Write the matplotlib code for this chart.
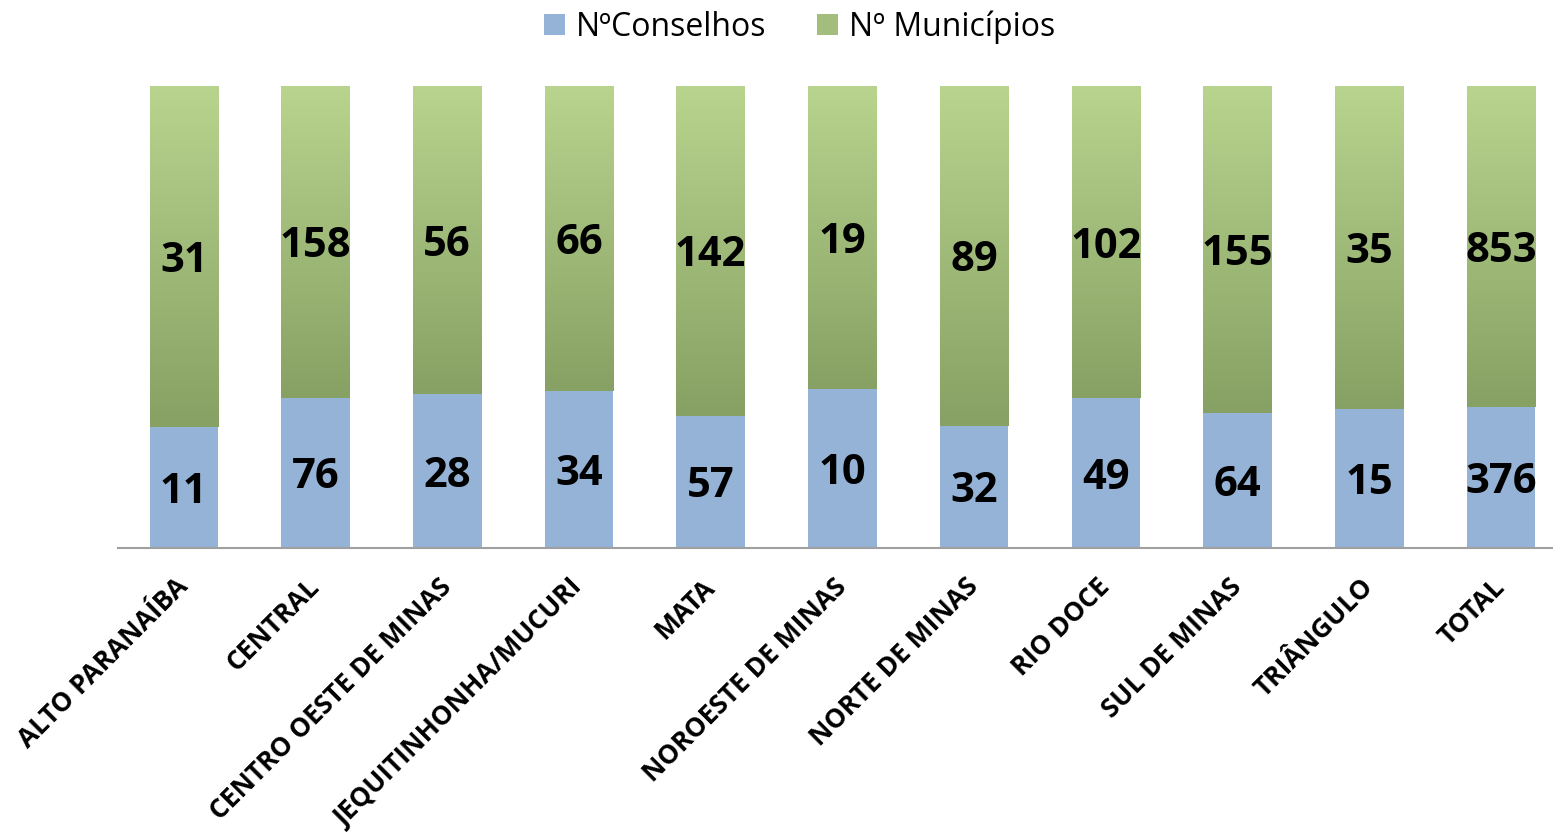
import numpy as np
import matplotlib
matplotlib.use("Agg")
import matplotlib.pyplot as plt
from matplotlib.patches import Patch
from matplotlib.colors import LinearSegmentedColormap

regioes = ["ALTO PARANAÍBA", "CENTRAL", "CENTRO OESTE DE MINAS", "JEQUITINHONHA/MUCURI",
           "MATA", "NOROESTE DE MINAS", "NORTE DE MINAS", "RIO DOCE", "SUL DE MINAS",
           "TRIÂNGULO", "TOTAL"]
conselhos = [11, 76, 28, 34, 57, 10, 32, 49, 64, 15, 376]
municipios = [31, 158, 56, 66, 142, 19, 89, 102, 155, 35, 853]

plt.rcParams['font.family'] = ['Open Sans', 'DejaVu Sans']

fig = plt.figure(figsize=(15.53, 8.39), dpi=100)
ax = fig.add_axes([118/1553, 1 - 548/839, 1 - 118/1553, (548 - 86)/839])

blue = "#95b3d7"
green_top = "#b9d48e"
green_bot = "#86a163"
cmap = LinearSegmentedColormap.from_list("g", [green_bot, green_top])

c = np.array(conselhos, dtype=float)
m = np.array(municipios, dtype=float)
tot = c + m
fc = c / tot
fm = m / tot
x = np.arange(len(regioes))
w = 0.52

ax.bar(x, fc, width=w, color=blue, zorder=2)
grad = np.linspace(0, 1, 256).reshape(-1, 1)
for xi, b, h in zip(x, fc, fm):
    ax.imshow(grad, extent=[xi - w/2, xi + w/2, b, b + h], origin='lower',
              cmap=cmap, aspect='auto', zorder=2)

for xi, b, h, cv, mv in zip(x, fc, fm, conselhos, municipios):
    ax.text(xi, b/2, str(cv), ha='center', va='center_baseline', fontsize=30,
            fontweight='bold', color='black', zorder=3)
    ax.text(xi, b + h/2, str(mv), ha='center', va='center_baseline', fontsize=30,
            fontweight='bold', color='black', zorder=3)

ax.set_xlim(-0.5, (1553 - 184) / 131.7)
ax.set_ylim(0, 1)
for s in ['top', 'right', 'left']:
    ax.spines[s].set_visible(False)
ax.spines['bottom'].set_color('#a0a0a0')
ax.spines['bottom'].set_linewidth(1.5)
ax.set_yticks([])
ax.set_xticks(x)
ax.set_xticklabels(regioes, rotation=45, ha='right', va='center',
                   rotation_mode='anchor', fontsize=19, fontweight='bold')
ax.tick_params(axis='x', length=0, pad=25)

handles = [Patch(facecolor=blue, label="NºConselhos"),
           Patch(facecolor="#a3be7c", label="Nº Municípios")]
fig.legend(handles=handles, loc='center', bbox_to_anchor=(0.515, 1 - 27/839),
           ncol=2, frameon=False, fontsize=23, handlelength=0.65, handleheight=0.65,
           handletextpad=0.35, columnspacing=1.6)

fig.savefig("out.png", dpi=100)
